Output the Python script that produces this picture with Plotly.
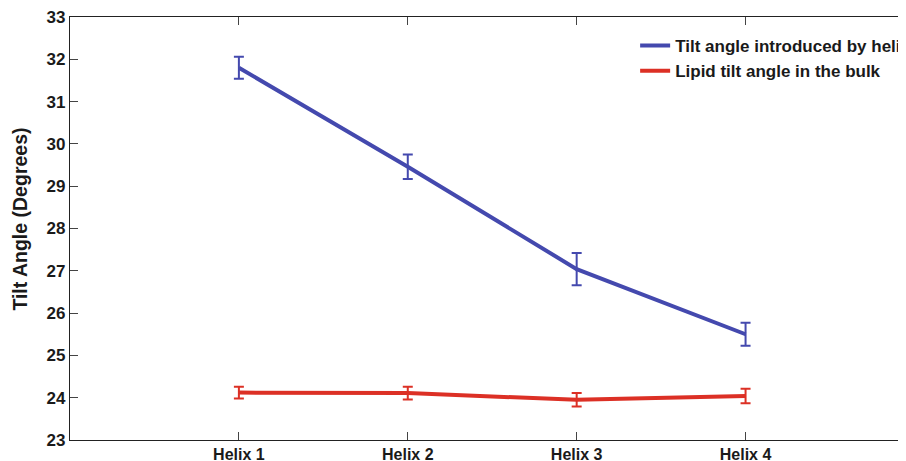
import plotly.graph_objects as go

categories = ["Helix 1", "Helix 2", "Helix 3", "Helix 4"]
helix_tilt = [31.80, 29.46, 27.04, 25.50]
helix_err = [0.26, 0.29, 0.38, 0.27]
bulk_tilt = [24.12, 24.11, 23.95, 24.04]
bulk_err = [0.14, 0.15, 0.16, 0.17]
series_names = ["Tilt angle introduced by helix", "Lipid tilt angle in the bulk"]
y_ticks = list(range(23, 34))
y_title = "Tilt Angle (Degrees)"

BLUE = "#4449AE"
RED = "#DC3025"
FONT = "Liberation Sans, Arial, Helvetica, sans-serif"
TXT = "#1a1a1a"

fig = go.Figure()
fig.add_trace(go.Scatter(
    x=categories, y=helix_tilt, mode="lines", name=series_names[0],
    line=dict(color=BLUE, width=4),
    error_y=dict(type="data", array=helix_err, color=BLUE, thickness=2, width=5),
))
fig.add_trace(go.Scatter(
    x=categories, y=bulk_tilt, mode="lines", name=series_names[1],
    line=dict(color=RED, width=4),
    error_y=dict(type="data", array=bulk_err, color=RED, thickness=2, width=5),
))

fig.update_layout(
    width=906, height=461,
    margin=dict(l=62, r=8, t=9, b=29, autoexpand=False),
    plot_bgcolor="white", paper_bgcolor="white",
    font=dict(family=FONT, size=16, color=TXT, weight="bold"),
    showlegend=True,
    legend=dict(
        x=0.676, y=0.974, xanchor="left", yanchor="top",
        bgcolor="rgba(0,0,0,0)", borderwidth=0,
        font=dict(family=FONT, size=17, color=TXT, weight="bold"),
        itemwidth=30, tracegroupgap=0,
    ),
    xaxis=dict(
        type="category", categoryorder="array", categoryarray=categories,
        range=[-1, 3.95],
        showline=True, linecolor="#222", linewidth=1.2, mirror="ticks",
        ticks="inside", ticklen=8, tickcolor="#444", tickwidth=1,
        showgrid=False, zeroline=False, ticklabeloverflow="allow",
        tickfont=dict(family=FONT, size=16, color=TXT, weight="bold"),
    ),
    yaxis=dict(
        range=[23, 33], tickvals=y_ticks,
        showline=True, linecolor="#222", linewidth=1.2, mirror=False,
        ticks="inside", ticklen=8, tickcolor="#444", tickwidth=1,
        showgrid=False, zeroline=False, ticklabeloverflow="allow",
        tickfont=dict(family=FONT, size=17, color=TXT, weight="bold"),
    ),
    annotations=[dict(
        text=y_title, textangle=-90, xref="paper", yref="paper",
        x=-0.0598, y=0.521, xanchor="center", yanchor="middle", showarrow=False,
        font=dict(family=FONT, size=19.5, color=TXT, weight="bold"),
    )],
)

fig.write_html("out.html")
